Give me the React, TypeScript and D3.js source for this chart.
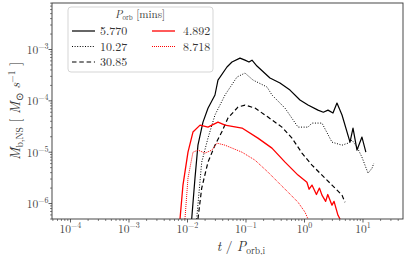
import * as d3 from 'd3';

// [t / P_orb,i, Mdot]
const run5770 = [
  [0.0118, 5e-7], [0.01343, 3.13e-6], [0.0151, 1.37e-5], [0.0184, 3.86e-5], [0.0224, 7.2e-5],
  [0.0295, 1.3e-4], [0.0332, 2.54e-4], [0.0473, 4.56e-4], [0.0576, 5.7e-4], [0.0789, 6.8e-4],
  [0.0961, 6.2e-4], [0.1125, 5.7e-4], [0.1267, 6.2e-4], [0.154, 4.77e-4], [0.257, 2.78e-4],
  [0.381, 2.22e-4], [0.565, 1.62e-4], [0.837, 1.04e-4], [1.148, 8.28e-5], [1.7, 6.6e-5],
  [2.1, 6.0e-5], [2.52, 6.6e-5], [3.07, 5.8e-5], [3.59, 9.06e-5], [4.38, 5.3e-5],
  [6.0, 1.57e-5], [6.75, 2.95e-5], [7.9, 1.1e-5], [9.6, 1.97e-5], [11.2, 1.0e-5],
];

const run1027 = [
  [0.01435, 5e-7], [0.0175, 6.4e-6], [0.0224, 1.88e-5], [0.0295, 5.3e-5], [0.0438, 1.3e-4],
  [0.0701, 2.91e-4], [0.0961, 3.48e-4], [0.132, 2.54e-4], [0.229, 1.86e-4], [0.278, 1.3e-4],
  [0.465, 7.2e-5], [0.775, 3.08e-5], [1.148, 3.08e-5], [1.343, 3.69e-5], [1.99, 3.69e-5],
  [2.95, 1.57e-5], [4.38, 1.37e-5], [5.55, 1.5e-5], [6.49, 1.72e-5], [7.9, 1.26e-5],
  [9.6, 8.0e-6], [12.2, 3.9e-6], [14.3, 4.9e-6], [15.3, 6.1e-6],
];

const run3085 = [
  [0.0151, 5e-7], [0.0175, 2.0e-6], [0.0224, 6.4e-6], [0.0295, 1.37e-5], [0.0385, 2.47e-5],
  [0.0492, 4.62e-5], [0.0729, 7.57e-5], [0.0961, 8.28e-5], [0.1426, 7.24e-5], [0.2377, 4.83e-5],
  [0.412, 3.08e-5], [0.611, 1.88e-5], [0.906, 9.6e-6], [1.343, 5.6e-6], [1.99, 3.58e-6],
  [2.95, 2.29e-6], [4.38, 1.46e-6], [4.92, 1.06e-6],
];

const run4892 = [
  [0.00745, 5e-7], [0.00837, 2.29e-6], [0.0102, 1.0e-5], [0.0124, 2.47e-5], [0.0164, 3.37e-5],
  [0.0224, 3.08e-5], [0.0332, 3.86e-5], [0.0438, 3.37e-5], [0.0855, 2.95e-5], [0.16, 1.88e-5],
  [0.278, 1.2e-5], [0.465, 6.4e-6], [0.775, 3.58e-6], [1.1, 2.6e-6], [1.2, 1.9e-6],
  [1.343, 2.29e-6], [1.6, 1.5e-6], [1.8, 2.0e-6], [1.99, 1.46e-6], [2.3, 1.1e-6],
  [2.5, 1.5e-6], [2.95, 9.3e-7], [3.2, 1.1e-6], [3.74, 5.9e-7], [4.05, 5e-7],
];

const run8718 = [
  [0.00905, 5e-7], [0.0102, 3.13e-6], [0.0124, 1.0e-5], [0.0151, 1.1e-5], [0.0199, 9.6e-6],
  [0.0262, 1.1e-5], [0.0319, 1.5e-5], [0.0438, 1.37e-5], [0.0855, 1.0e-5], [0.1426, 7.0e-6],
  [0.2377, 4.09e-6], [0.352, 2.61e-6], [0.522, 1.67e-6], [0.775, 1.06e-6], [1.02, 6.8e-7],
  [1.148, 5e-7],
];

const legendLabels = ['5.770', '10.27', '30.85', '4.892', '8.718'];
const xTickExps = [-4, -3, -2, -1, 0, 1];
const yTickExps = [-6, -5, -4, -3];

const left = 52, right = 403, top = 3, bottom = 219;
const font = "'Latin Modern Roman', 'Liberation Serif', serif";

const series = [
  { data: run5770, color: '#000', width: 1.2, dash: undefined },
  { data: run1027, color: '#000', width: 1, dash: '1,1.6' },
  { data: run3085, color: '#000', width: 1.2, dash: '4.5,2.8' },
  { data: run4892, color: 'red', width: 1.3, dash: undefined },
  { data: run8718, color: 'red', width: 1, dash: '1,1' },
];

export default function App() {
  const x = d3.scaleLog().domain([4.83e-5, 48.3]).range([left, right]);
  const y = d3.scaleLog().domain([5.0e-7, 8.05e-3]).range([bottom, top]);
  const line = d3.line<number[]>().x(d => x(d[0])).y(d => y(d[1]));

  const isMajor = (v: number) => Math.abs(Math.log10(v) - Math.round(Math.log10(v))) < 1e-6;
  const xMinor = x.ticks().filter(v => !isMajor(v));
  const yMinor = y.ticks().filter(v => !isMajor(v));

  // legend layout: two columns
  const legendPos = [
    { lx: 72, ly: 31, tx: 100 },
    { lx: 72, ly: 46.5, tx: 100 },
    { lx: 72, ly: 62, tx: 100 },
    { lx: 152, ly: 31, tx: 183 },
    { lx: 152, ly: 46.5, tx: 183 },
  ];

  return (
    <svg width={407} height={255} style={{ position: 'absolute', left: 0, top: 0 }} fontFamily={font}>
      <rect width={407} height={255} fill="#fff" />
      <defs>
        <clipPath id="plot">
          <rect x={left} y={top} width={right - left} height={bottom - top} />
        </clipPath>
      </defs>

      <g clipPath="url(#plot)" fill="none">
        {series.map((s, i) => (
          <path key={i} d={line(s.data) || ''} stroke={s.color} strokeWidth={s.width}
            strokeDasharray={s.dash} strokeLinejoin="round" />
        ))}
      </g>

      {/* spines */}
      <rect x={left} y={top} width={right - left} height={bottom - top} fill="none" stroke="#333" strokeWidth={0.9} />

      {/* x ticks */}
      {xTickExps.map(e => (
        <g key={'x' + e}>
          <line x1={x(10 ** e)} x2={x(10 ** e)} y1={bottom} y2={bottom + 3.5} stroke="#333" strokeWidth={0.8} />
          <text x={x(10 ** e)} y={232.5} fontSize={11.5} textAnchor="middle" fill="#444">
            10<tspan fontSize={8} dy={-5}>{e < 0 ? '\u2212' + Math.abs(e) : e}</tspan>
          </text>
        </g>
      ))}
      {xMinor.map((v, i) => (
        <line key={'xm' + i} x1={x(v)} x2={x(v)} y1={bottom} y2={bottom + 2} stroke="#333" strokeWidth={0.6} />
      ))}

      {/* y ticks */}
      {yTickExps.map(e => (
        <g key={'y' + e}>
          <line x1={left - 3.5} x2={left} y1={y(10 ** e)} y2={y(10 ** e)} stroke="#333" strokeWidth={0.8} />
          <text x={48.5} y={y(10 ** e) + 4.5} fontSize={11.5} textAnchor="end" fill="#444">
            10<tspan fontSize={8} dy={-5}>{'\u2212' + Math.abs(e)}</tspan>
          </text>
        </g>
      ))}
      {yMinor.map((v, i) => (
        <line key={'ym' + i} x1={left - 2} x2={left} y1={y(v)} y2={y(v)} stroke="#333" strokeWidth={0.6} />
      ))}

      {/* axis labels */}
      <text x={241} y={250.5} fontSize={13.5} textAnchor="middle" fill="#333">
        <tspan fontStyle="italic">t</tspan> / <tspan fontStyle="italic">P</tspan>
        <tspan fontSize={9.5} dy={3}>orb,i</tspan>
      </text>
      <text transform="translate(20,111) rotate(-90)" fontSize={14} textAnchor="middle" fill="#333">
        <tspan fontStyle="italic">{'\u1E40'}</tspan>
        <tspan fontSize={9.5} dy={3}>b,NS</tspan>
        <tspan dy={-3}> [ </tspan>
        <tspan fontStyle="italic">M</tspan>
        <tspan fontSize={9.5} dy={3}>{'\u2299'}</tspan>
        <tspan fontStyle="italic" dy={-3}> s</tspan>
        <tspan fontSize={9.5} dy={-5}>{'\u22121'}</tspan>
        <tspan dy={5}> ]</tspan>
      </text>

      {/* legend */}
      <rect x={68} y={7} width={145} height={65} rx={3} fill="#fff" fillOpacity={0.8} stroke="#d0d0d0" strokeWidth={0.9} />
      <text x={140} y={18} fontSize={11} textAnchor="middle" fill="#333">
        <tspan fontStyle="italic">P</tspan>
        <tspan fontSize={7} dy={2}>orb</tspan>
        <tspan dy={-2}> [mins]</tspan>
      </text>
      {series.map((s, i) => {
        const p = legendPos[i];
        return (
          <g key={'lg' + i}>
            <line x1={p.lx} x2={p.lx + 23} y1={p.ly} y2={p.ly} stroke={s.color}
              strokeWidth={s.width} strokeDasharray={s.dash} />
            <text x={p.tx} y={p.ly + 4} fontSize={12} fill="#333">{legendLabels[i]}</text>
          </g>
        );
      })}
    </svg>
  );
}
